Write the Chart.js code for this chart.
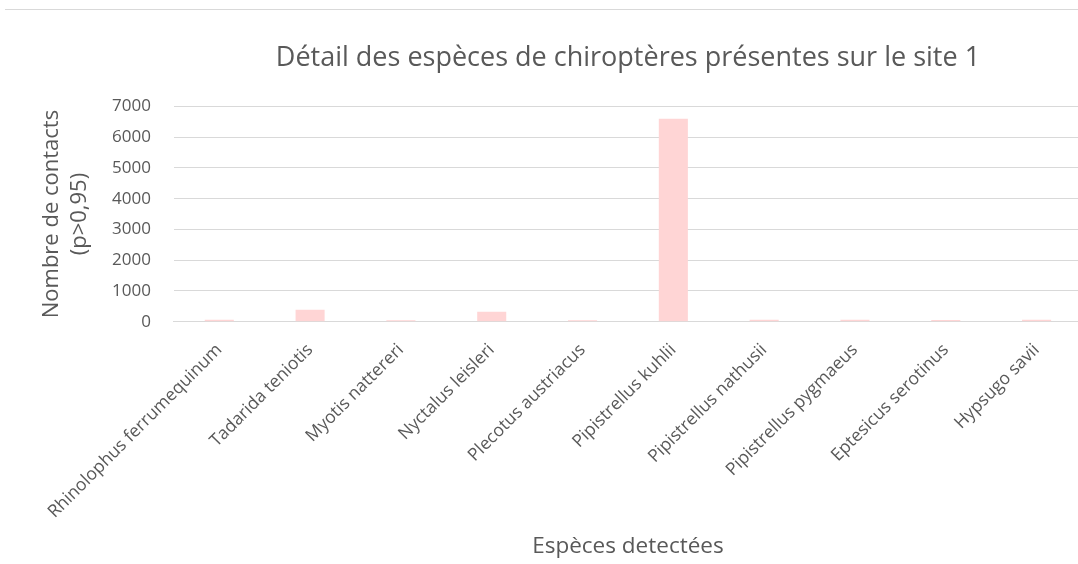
<!DOCTYPE html>
<html>
<head>
<meta charset="utf-8">
<script src="https://cdn.jsdelivr.net/npm/chart.js@4/dist/chart.umd.min.js"></script>
<style>
  html, body { margin: 0; padding: 0; background: #fff; overflow: hidden; }
  #wrap { position: relative; width: 1078px; height: 564px; overflow: hidden; }
  #topline { position: absolute; left: 5px; right: 0; top: 9px; border-top: 1px solid #d9d9d9; }
  canvas { position: absolute; left: 0; top: 0; }
</style>
</head>
<body>
<div id="wrap">
  <div id="topline"></div>
  <canvas id="myChart" width="1086" height="564"></canvas>
</div>
<script>
(() => {
  'use strict';

  // Données
  const especes = ['Rhinolophus ferrumequinum', 'Tadarida teniotis', 'Myotis nattereri', 'Nyctalus leisleri',
    'Plecotus austriacus', 'Pipistrellus kuhlii', 'Pipistrellus nathusii', 'Pipistrellus pygmaeus',
    'Eptesicus serotinus', 'Hypsugo savii'];
  const contacts = [60, 390, 50, 320, 50, 6600, 60, 60, 55, 60];
  const yTicks = [0, 1000, 2000, 3000, 4000, 5000, 6000, 7000];

  const gris = '#595959';
  const police = "'Open Sans', sans-serif";

  const ctx = document.getElementById('myChart');
  new Chart(ctx, {
    type: 'bar',
    data: {
      labels: especes,
      datasets: [{
        data: contacts,
        backgroundColor: '#ffd5d5',
        borderWidth: 0,
        barPercentage: 0.64,
        categoryPercentage: 0.5
      }]
    },
    options: {
      responsive: false,
      animation: false,
      layout: { padding: { left: 11, right: 4, top: 42, bottom: 0 } },
      plugins: {
        legend: { display: false },
        tooltip: { enabled: false },
        title: {
          display: true,
          fullSize: false,
          text: 'Détail des espèces de chiroptères présentes sur le site 1',
          color: gris,
          font: { family: police, size: 27, weight: 'normal' },
          padding: { top: 0, bottom: 32 }
        }
      },
      scales: {
        x: {
          grid: { display: false, drawTicks: false },
          border: { color: '#d9d9d9' },
          ticks: {
            autoSkip: false,
            minRotation: 45,
            maxRotation: 45,
            color: gris,
            padding: 18,
            font: { family: police, size: 17.5 }
          },
          title: {
            display: true,
            text: 'Espèces detectées',
            color: gris,
            font: { family: police, size: 22.5, lineHeight: 1.0 },
            padding: { top: -5, bottom: 6 }
          }
        },
        y: {
          min: 0,
          max: 7000,
          afterBuildTicks: (axis) => { axis.ticks = yTicks.map(v => ({ value: v })); },
          grid: { color: '#d9d9d9', drawTicks: false },
          border: { display: false },
          ticks: {
            color: gris,
            padding: 23,
            font: { family: police, size: 17 },
            callback: (v) => String(v)
          },
          title: {
            display: true,
            text: ['Nombre de contacts', '(p>0,95)'],
            color: gris,
            font: { family: police, size: 22, lineHeight: 1.25 },
            padding: { top: 27, bottom: -4 }
          }
        }
      }
    }
  });
})();
</script>
</body>
</html>
